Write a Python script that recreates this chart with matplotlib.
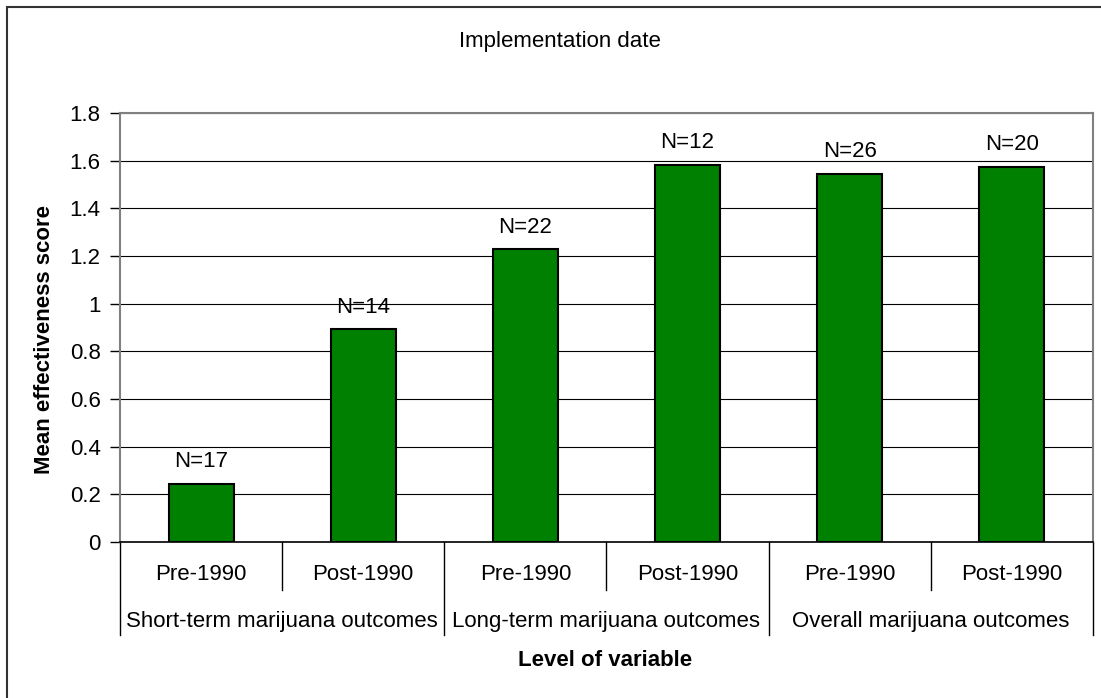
import matplotlib.pyplot as plt
from matplotlib.patches import Rectangle

plt.rcParams.update(
    {
        "font.family": ["Liberation Sans", "DejaVu Sans"],
        "font.size": 16,
    }
)

periods = ["Pre-1990", "Post-1990", "Pre-1990", "Post-1990", "Pre-1990", "Post-1990"]
groups = [
    "Short-term marijuana outcomes",
    "Long-term marijuana outcomes",
    "Overall marijuana outcomes",
]
scores = [0.243, 0.893, 1.228, 1.582, 1.544, 1.575]
counts = [17, 14, 22, 12, 26, 20]

W, H = 1101, 698
fig = plt.figure(figsize=(W / 100, H / 100), dpi=100)
left, right, top, bottom = 120, 1093, 113, 542
ax = fig.add_axes([left / W, 1 - bottom / H, (right - left) / W, (bottom - top) / H])

x = list(range(len(scores)))
ax.bar(x, scores, 0.4, color="#008000", edgecolor="black", linewidth=1.5, zorder=3)
for xi, v, n in zip(x, scores, counts):
    ax.annotate(f"N={n}", (xi, v), xytext=(0, 12), textcoords="offset points",
                ha="center", va="baseline", fontsize=16)

ax.set_xlim(-0.5, len(scores) - 0.5)
ax.set_ylim(0, 1.8)
ax.set_yticks([0, 0.2, 0.4, 0.6, 0.8, 1, 1.2, 1.4, 1.6, 1.8])
ax.set_yticklabels(["0", "0.2", "0.4", "0.6", "0.8", "1", "1.2", "1.4", "1.6", "1.8"])
ax.tick_params(axis="y", direction="out", length=7, width=1, pad=7, labelsize=16)
ax.set_xticks([])
ax.yaxis.grid(True, color="black", linewidth=0.8, zorder=0)
ax.set_axisbelow(True)
for s in ["top", "right", "left"]:
    ax.spines[s].set_color("#808080")
    ax.spines[s].set_linewidth(1.5)
ax.spines["bottom"].set_color("black")
ax.spines["bottom"].set_linewidth(1.2)

# multi-level category axis
trans = ax.get_xaxis_transform()
short_y = -(590 - bottom) / (bottom - top)
long_y = -(635 - bottom) / (bottom - top)
for b in [0.5, 2.5, 4.5]:
    ax.plot([b, b], [0, short_y], color="black", lw=1, transform=trans, clip_on=False)
for b in [-0.5, 1.5, 3.5, 5.5]:
    ax.plot([b, b], [0, long_y], color="black", lw=1, transform=trans, clip_on=False)
for xi, p in zip(x, periods):
    ax.text(xi, -(574 - bottom) / (bottom - top), p, transform=trans,
            ha="center", va="center", fontsize=16)
for i, g in enumerate(groups):
    ax.text(2 * i + 0.5, -(621 - bottom) / (bottom - top), g, transform=trans,
            ha="center", va="center", fontsize=16)

fig.text(605 / W, 1 - 660 / H, "Level of variable", ha="center", va="center",
         fontsize=16, fontweight="bold")
fig.text(45 / W, 1 - 340 / H, "Mean effectiveness score", ha="center", va="center",
         rotation=90, fontsize=16, fontweight="bold")
fig.text(560 / W, 1 - 41 / H, "Implementation date", ha="center", va="center",
         fontsize=16)

# outer chart frame (cut off at right and bottom)
fig.patches.append(Rectangle((7 / W, -0.1), 1.2, 1 - 7 / H + 0.1,
                             transform=fig.transFigure, fill=False,
                             edgecolor="#333333", linewidth=1.5))

fig.savefig("out.png", dpi=100)
